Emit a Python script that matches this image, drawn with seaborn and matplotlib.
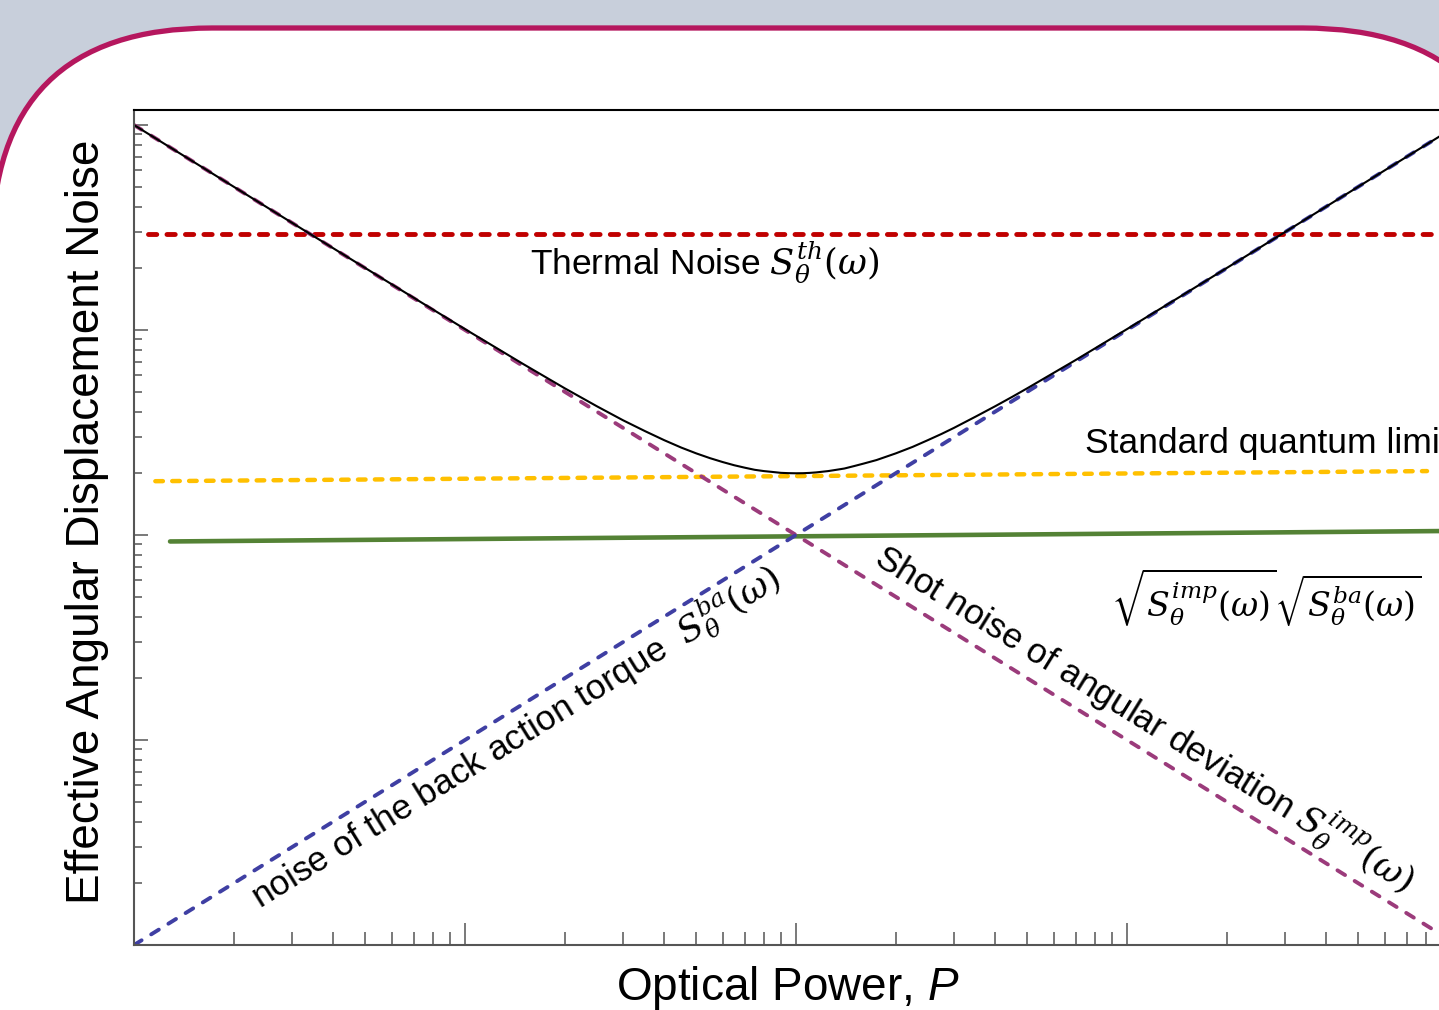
import numpy as np
import pandas as pd
import matplotlib
matplotlib.use("Agg")
import matplotlib.pyplot as plt
import seaborn as sns
from matplotlib.patches import FancyBboxPatch

# ---------------- data ----------------
power_total = [1, 2, 3, 5, 7, 10, 15, 20, 25, 30, 35, 40, 45, 50, 55, 60, 65, 70,
               75, 80, 85, 90, 95, 100, 105, 110, 115, 125, 130, 140, 150, 160,
               175, 200, 225, 250, 275, 300, 350, 400, 450, 500, 700, 1000,
               1500, 2000, 3000, 5000, 10000]
noise_total = [10001, 5002, 3336, 2005, 1436, 1010, 682, 520, 425, 363, 321, 290,
               267, 250, 237, 227, 219, 213, 208, 205, 203, 201, 200.3, 200,
               200.2, 200.9, 202, 205, 207, 211, 217, 223, 232, 250, 269, 290,
               311, 333, 379, 425, 472, 520, 714, 1010, 1507, 2005, 3003, 5002,
               10001]
power_shot = [1, 10000]
noise_shot = [10000, 1]
power_ba = [1, 10000]
noise_ba = [1, 10000]
power_thermal = [1.1, 10000]
noise_thermal = [2940, 2940]
power_sql = [1.16, 8060]
noise_sql = [183, 205]
power_geo = [1.285, 10000]
noise_geo = [93, 104.7]

# ---------------- style ----------------
sns.set_theme(style="white")
plt.rcParams["font.family"] = ["Liberation Sans", "DejaVu Sans"]
plt.rcParams["text.color"] = "black"
plt.rcParams["mathtext.fontset"] = "dejavuserif"
plt.rcParams["mathtext.it"] = "Liberation Sans:italic"
plt.rcParams["mathtext.rm"] = "Liberation Sans"

W, H = 1439, 1010
fig = plt.figure(figsize=(W / 100, H / 100), dpi=100)
fig.patch.set_facecolor("#c8cfdb")

# background rounded panel (pixel coordinates)
bg = fig.add_axes([0, 0, 1, 1], zorder=0)
bg.set_xlim(0, W)
bg.set_ylim(H, 0)
bg.axis("off")
panel = FancyBboxPatch((-8, 28), 1531, 1200,
                       boxstyle="round,pad=0,rounding_size=220",
                       fc="white", ec="#b5175e", lw=3.8, clip_on=False)
bg.add_patch(panel)

# main axes
left, right, top, bottom = 134, 1458, 110, 945
ax = fig.add_axes([left / W, 1 - bottom / H, (right - left) / W, (bottom - top) / H], zorder=1)
ax.set_facecolor("white")
ax.set_xscale("log")
ax.set_yscale("log")
ax.set_xlim(1, 1e4)
ax.set_ylim(1, 10 ** ((bottom - top) / 205))

dash = (0, (1.7, 2.1))
sns.lineplot(x=power_thermal, y=noise_thermal, ax=ax, color="#c00000", lw=3.5,
             linestyle=dash, dash_capstyle="round", estimator=None, sort=False)
sns.lineplot(x=power_sql, y=noise_sql, ax=ax, color="#ffc000", lw=3.2,
             linestyle=dash, dash_capstyle="round", estimator=None, sort=False)
sns.lineplot(x=power_geo, y=noise_geo, ax=ax, color="#548235", lw=3.3,
             estimator=None, sort=False)
sns.lineplot(x=power_shot, y=noise_shot, ax=ax, color="#9b3b7b", lw=2.8,
             linestyle=(0, (2.3, 2.9)), dash_capstyle="round", estimator=None, sort=False)
sns.lineplot(x=power_ba, y=noise_ba, ax=ax, color="#3f3fa3", lw=2.8,
             linestyle=(0, (2.3, 2.9)), dash_capstyle="round", estimator=None, sort=False)
sns.lineplot(x=power_total, y=noise_total, ax=ax, color="black", lw=1.5,
             estimator=None, sort=False)

# axes styling
for s in ["left", "bottom"]:
    ax.spines[s].set_color("#555555")
    ax.spines[s].set_linewidth(1.5)
ax.spines["top"].set_color("black")
ax.spines["top"].set_linewidth(1.5)
ax.spines["right"].set_visible(False)
ax.tick_params(which="both", direction="in", colors="#555555", width=1.1,
               labelbottom=False, labelleft=False, top=False, right=False,
               bottom=True, left=True)
ax.tick_params(axis="x", which="major", length=16)
ax.tick_params(axis="x", which="minor", length=9.5)
ax.tick_params(axis="y", which="major", length=10)
ax.tick_params(axis="y", which="minor", length=6)
ax.set_xlabel("")
ax.set_ylabel("")


def fx(x):
    return x / W


def fy(y):
    return 1 - y / H


# axis titles
fig.text(fx(99), fy(522), "Effective Angular Displacement Noise", rotation=90,
         rotation_mode="anchor", ha="center", va="baseline", fontsize=33,
         color="black", zorder=5)
fig.text(fx(788), fy(1000), "Optical Power, $P$", ha="center", va="baseline",
         fontsize=33, color="black", math_fontfamily="custom", zorder=5)

fs = 25.5
fig.text(fx(530), fy(274), r"Thermal Noise $S_{\theta}^{th}(\omega)$",
         ha="left", va="baseline", fontsize=fs, color="black", zorder=5)
fig.text(fx(1085), fy(453), "Standard quantum limit", ha="left", va="baseline",
         fontsize=fs, color="black", zorder=5)
fig.text(fx(1266), fy(617), r"$\sqrt{S_{\theta}^{imp}(\omega)}\sqrt{S_{\theta}^{ba}(\omega)}$",
         ha="center", va="baseline", fontsize=24, color="black", zorder=5)
ang = np.degrees(np.arctan(205 / 331))
fig.text(fx(512), fy(732), r"noise of the back action torque  $S_{\theta}^{ba}(\omega)$",
         rotation=ang, rotation_mode="anchor", ha="center", va="center_baseline",
         fontsize=fs, color="black", zorder=5)
fig.text(fx(1148), fy(712), r"Shot noise of angular deviation $S_{\theta}^{imp}(\omega)$",
         rotation=-ang, rotation_mode="anchor", ha="center", va="center_baseline",
         fontsize=fs, color="black", zorder=5)

fig.savefig("out.png", dpi=100, facecolor=fig.get_facecolor())
